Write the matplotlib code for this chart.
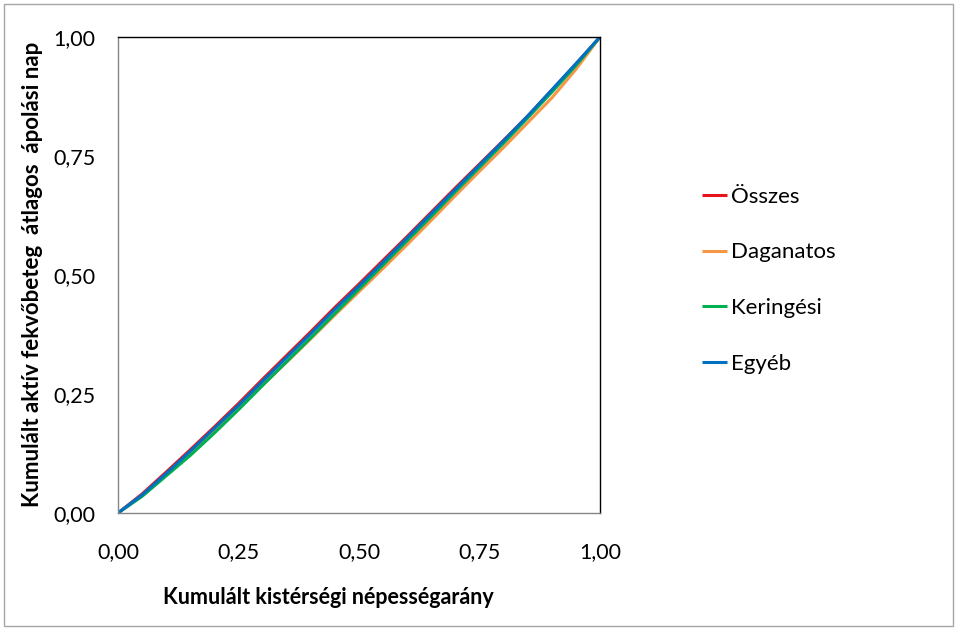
import matplotlib.pyplot as plt
from matplotlib.patches import Rectangle

plt.rcParams['font.family'] = ['Lato', 'DejaVu Sans']

# kumulált népességarány (x) és a négy görbe kumulált ápolási nap aránya (y)
x = [0.00, 0.05, 0.10, 0.15, 0.20, 0.25, 0.30, 0.35, 0.40, 0.45, 0.50,
     0.55, 0.60, 0.65, 0.70, 0.75, 0.80, 0.85, 0.90, 0.95, 1.00]
osszes = [0.000, 0.040, 0.086, 0.133, 0.181, 0.230, 0.281, 0.331, 0.381, 0.432, 0.481,
          0.531, 0.581, 0.632, 0.683, 0.733, 0.783, 0.834, 0.888, 0.943, 1.000]
daganatos = [0.000, 0.036, 0.080, 0.124, 0.171, 0.220, 0.269, 0.317, 0.366, 0.416, 0.465,
             0.514, 0.564, 0.615, 0.667, 0.718, 0.768, 0.820, 0.872, 0.932, 1.000]
keringesi = [0.000, 0.035, 0.078, 0.121, 0.168, 0.217, 0.268, 0.318, 0.368, 0.419, 0.470,
             0.521, 0.572, 0.623, 0.675, 0.726, 0.777, 0.830, 0.884, 0.940, 1.000]
egyeb = [0.000, 0.038, 0.083, 0.130, 0.178, 0.226, 0.277, 0.327, 0.377, 0.428, 0.477,
         0.527, 0.578, 0.629, 0.680, 0.731, 0.782, 0.834, 0.889, 0.944, 1.000]

series = [
    ('Összes', osszes, '#e8141c'),
    ('Daganatos', daganatos, '#f79646'),
    ('Keringési', keringesi, '#00b050'),
    ('Egyéb', egyeb, '#0070c0'),
]
xticks = [0.0, 0.25, 0.5, 0.75, 1.0]
tick_labels = ['0,00', '0,25', '0,50', '0,75', '1,00']

fig = plt.figure(figsize=(9.58, 6.30), dpi=100)
ax = fig.add_axes([118 / 958, 117 / 630, 482 / 958, 476 / 630])

for name, y, color in series:
    ax.plot(x, y, color=color, lw=2.2, label=name, solid_capstyle='butt')

ax.set_xlim(0, 1)
ax.set_ylim(0, 1)
ax.set_xticks(xticks)
ax.set_yticks(xticks)
ax.set_xticklabels(tick_labels)
ax.set_yticklabels(tick_labels)
ax.tick_params(length=0, labelsize=15.5, colors='black')
ax.tick_params(axis='y', pad=16)
ax.tick_params(axis='x', pad=21)
for side in ('left', 'bottom'):
    ax.spines[side].set_color('#868686')
for side in ('top', 'right'):
    ax.spines[side].set_color('black')
for s in ax.spines.values():
    s.set_linewidth(1)

fig.text(328 / 958, 1 - 598 / 630, 'Kumulált kistérségi népességarány',
         ha='center', va='center', fontsize=15.5, fontweight='bold')
fig.text(33 / 958, 1 - 274 / 630, 'Kumulált aktív fekvőbeteg  átlagos  ápolási nap',
         ha='center', va='center', rotation=90, fontsize=16, fontweight='bold')

leg = fig.legend(loc='upper left', bbox_to_anchor=(693 / 958, 1 - 178 / 630),
                 frameon=False, fontsize=16, handlelength=1.15, handletextpad=0.15,
                 labelspacing=1.6, borderaxespad=0)

fig.patches.append(Rectangle((4 / 958, 4 / 630), 949 / 958, 622 / 630,
                             transform=fig.transFigure, fill=False,
                             edgecolor='#a6a6a6', lw=1))

fig.savefig('out.png', dpi=100)
